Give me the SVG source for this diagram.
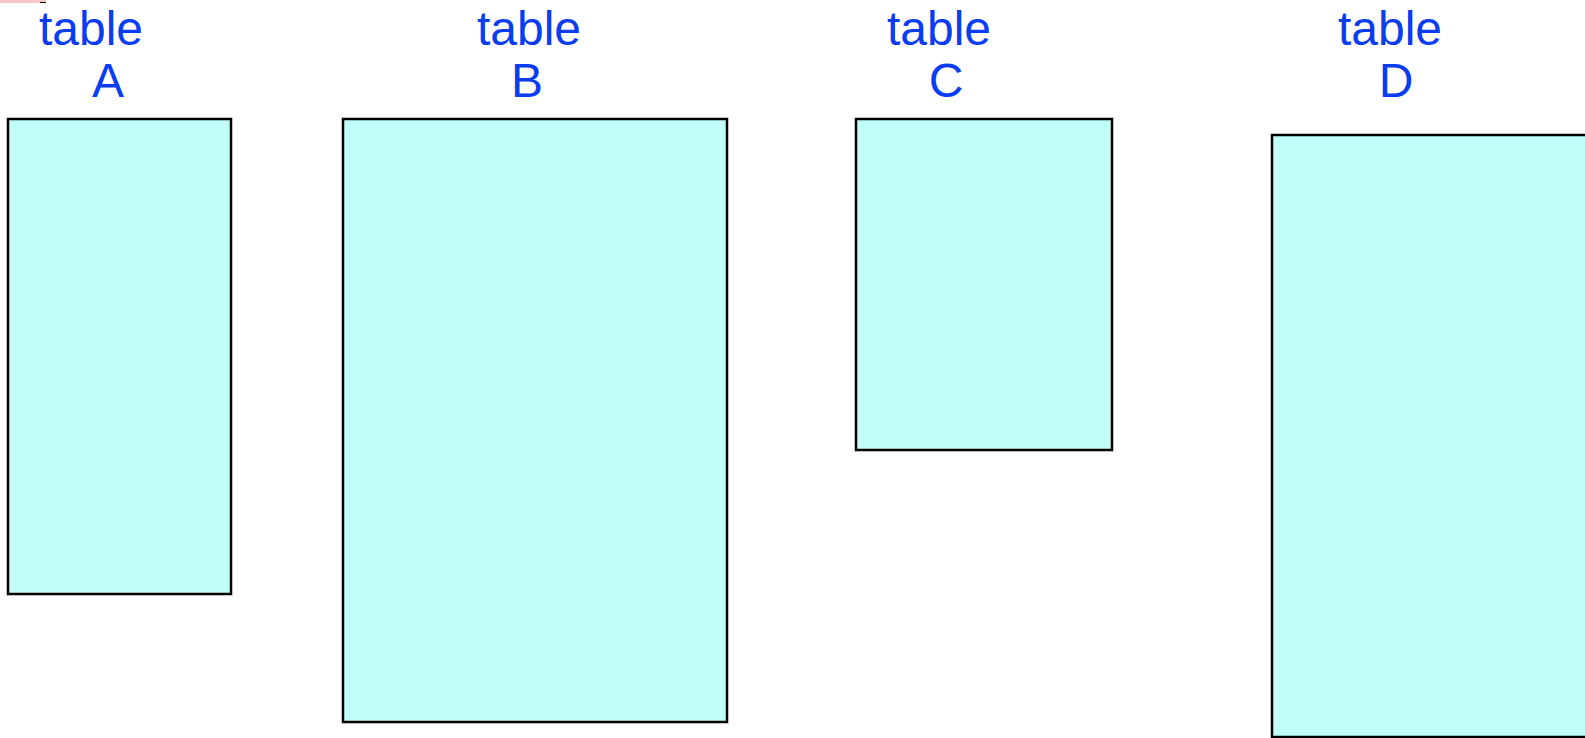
<svg xmlns="http://www.w3.org/2000/svg" width="1585" height="738" viewBox="0 0 1585 738">
<style>
.box{fill:#c0fff8;stroke:#000;stroke-width:2.5}
.lbl{font-family:"Liberation Sans",Arial,sans-serif;font-size:48px;fill:#0a3cf0;text-anchor:middle}
</style>
<rect width="1585" height="738" fill="#fff"/>
<rect x="0" y="0" width="46" height="3" fill="#f6c6c6"/>
<line x1="40" y1="2.5" x2="46" y2="2.5" stroke="#000" stroke-width="1"/>
<g id="tableA">
<rect class="box" x="8" y="119" width="223" height="475"/>
<text class="lbl" x="91" y="45">table</text>
<text class="lbl" x="108" y="97">A</text>
</g>
<g id="tableB">
<rect class="box" x="343" y="119" width="384" height="603"/>
<text class="lbl" x="529" y="45">table</text>
<text class="lbl" x="527" y="97">B</text>
</g>
<g id="tableC">
<rect class="box" x="856" y="119" width="256" height="331"/>
<text class="lbl" x="939" y="45">table</text>
<text class="lbl" x="946" y="97">C</text>
</g>
<g id="tableD">
<rect class="box" x="1272" y="135" width="330" height="602"/>
<text class="lbl" x="1390" y="45">table</text>
<text class="lbl" x="1396" y="97">D</text>
</g>
<g id="connectors"></g>
</svg>
